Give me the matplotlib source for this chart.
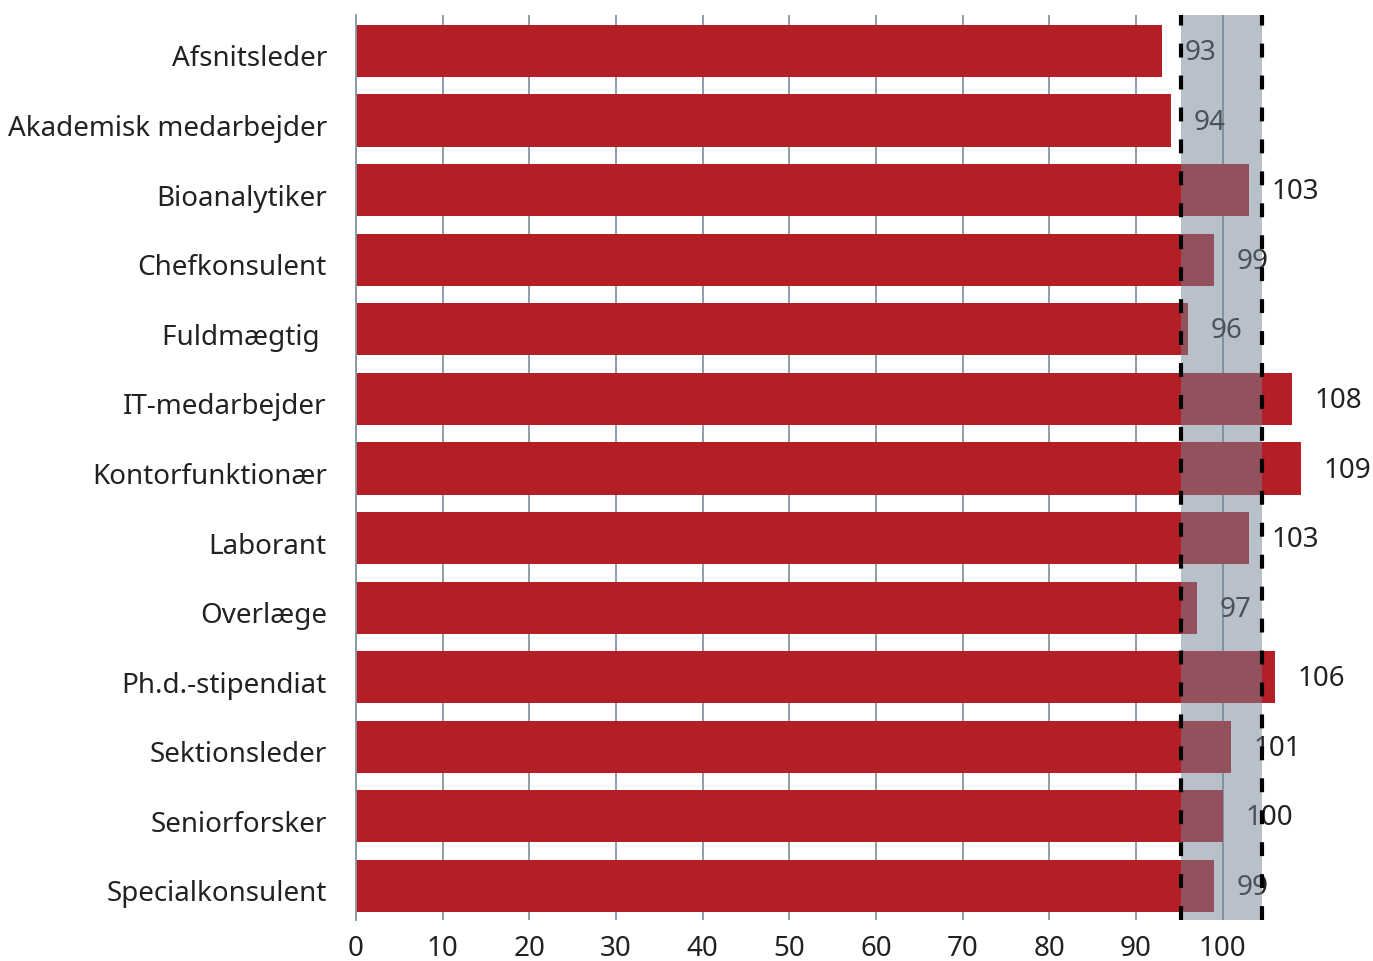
import matplotlib
matplotlib.use("Agg")
from matplotlib import pyplot as plt
from matplotlib.transforms import ScaledTranslation
import numpy as np

plt.rcParams['font.family'] = ['Noto Sans', 'DejaVu Sans']
plt.rcParams['lines.scale_dashes'] = False

roles = ["Afsnitsleder", "Akademisk medarbejder", "Bioanalytiker", "Chefkonsulent",
         "Fuldmægtig ", "IT-medarbejder", "Kontorfunktionær", "Laborant", "Overlæge",
         "Ph.d.-stipendiat", "Sektionsleder", "Seniorforsker", "Specialkonsulent"]
index_values = [93, 94, 103, 99, 96, 108, 109, 103, 97, 106, 101, 100, 99]
band_low, band_high = 95.2, 104.5
xticks = list(range(0, 101, 10))

bar_color = "#b31f24"
grid_color = "#8796a5"
band_color = "#728394"
text_color = "#222222"

fig = plt.figure(figsize=(13.73, 9.61), dpi=100)
ax = fig.add_axes([356 / 1373, 41 / 961, (1370 - 356) / 1373, (946 - 41) / 961])

y = np.arange(len(roles))
ax.barh(y, index_values, height=0.75, color=bar_color, zorder=2)

for yi, v in zip(y, index_values):
    ax.text(v + 2.6, yi + 0.03, str(v), va="center", ha="left", fontsize=20,
            color=text_color, zorder=3)

# tolerance band drawn over bars and labels
ax.axvspan(band_low, band_high, color=band_color, alpha=0.5, lw=0, zorder=4)
for xv in (band_low, band_high):
    ax.axvline(xv, color="black", lw=3, dashes=(10, 13), zorder=5)

ax.set_xlim(0, 117)
ax.set_ylim(12.49, -0.517)
ax.set_xticks(xticks)
ax.set_yticks(y)
ax.set_yticklabels(roles)
ax.xaxis.grid(True, color=grid_color, lw=1.3, zorder=1)
ax.set_axisbelow(True)

for side in ("top", "right", "bottom"):
    ax.spines[side].set_visible(False)
ax.spines["left"].set_color(grid_color)
ax.spines["left"].set_linewidth(1.3)

ax.tick_params(axis="y", length=0, pad=21, labelsize=20, labelcolor=text_color)
ax.tick_params(axis="x", length=0, pad=11, labelsize=20, labelcolor=text_color)

# nudge category names slightly down
shift = ScaledTranslation(0, -5 / 100, fig.dpi_scale_trans)
for lbl in ax.get_yticklabels():
    lbl.set_transform(lbl.get_transform() + shift)

fig.savefig("out.png", dpi=100)
plt.close()
